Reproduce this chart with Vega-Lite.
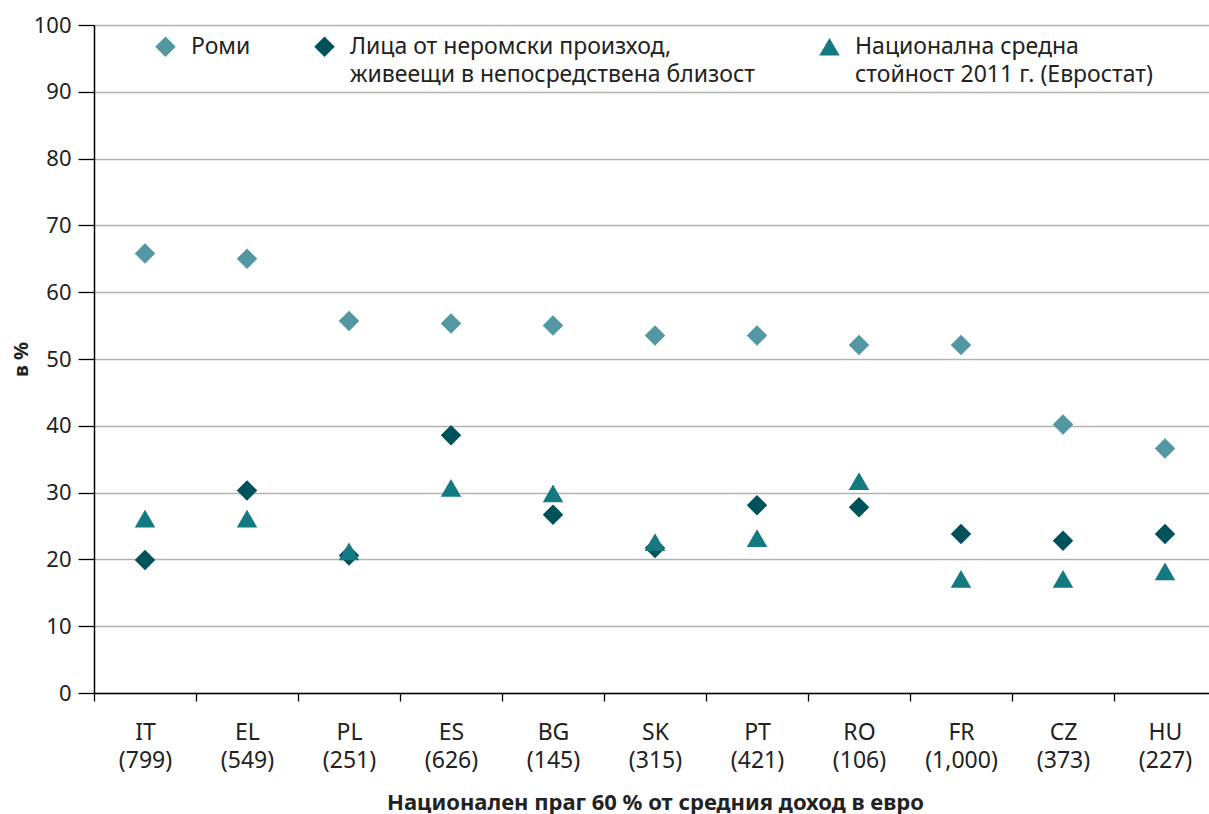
{
  "$schema": "https://vega.github.io/schema/vega-lite/v6.json",
  "autosize": "none",
  "width": 1115,
  "height": 668,
  "padding": {"left": 94, "top": 25, "right": 0, "bottom": 121},
  "background": "white",
  "config": {
    "font": "Noto Sans",
    "view": {"stroke": null},
    "style": {"guide-label": {"lineHeight": 28}}
  },
  "data": {
    "values": [
      {"country": "IT|(799)", "series": "Роми", "value": 65.8},
      {"country": "EL|(549)", "series": "Роми", "value": 65.0},
      {"country": "PL|(251)", "series": "Роми", "value": 55.7},
      {"country": "ES|(626)", "series": "Роми", "value": 55.3},
      {"country": "BG|(145)", "series": "Роми", "value": 55.0},
      {"country": "SK|(315)", "series": "Роми", "value": 53.5},
      {"country": "PT|(421)", "series": "Роми", "value": 53.5},
      {"country": "RO|(106)", "series": "Роми", "value": 52.1},
      {"country": "FR|(1,000)", "series": "Роми", "value": 52.1},
      {"country": "CZ|(373)", "series": "Роми", "value": 40.2},
      {"country": "HU|(227)", "series": "Роми", "value": 36.6},
      {"country": "IT|(799)", "series": "Лица от неромски произход, живеещи в непосредствена близост", "value": 19.9},
      {"country": "EL|(549)", "series": "Лица от неромски произход, живеещи в непосредствена близост", "value": 30.3},
      {"country": "PL|(251)", "series": "Лица от неромски произход, живеещи в непосредствена близост", "value": 20.6},
      {"country": "ES|(626)", "series": "Лица от неромски произход, живеещи в непосредствена близост", "value": 38.6},
      {"country": "BG|(145)", "series": "Лица от неромски произход, живеещи в непосредствена близост", "value": 26.7},
      {"country": "SK|(315)", "series": "Лица от неромски произход, живеещи в непосредствена близост", "value": 21.7},
      {"country": "PT|(421)", "series": "Лица от неромски произход, живеещи в непосредствена близост", "value": 28.1},
      {"country": "RO|(106)", "series": "Лица от неромски произход, живеещи в непосредствена близост", "value": 27.8},
      {"country": "FR|(1,000)", "series": "Лица от неромски произход, живеещи в непосредствена близост", "value": 23.8},
      {"country": "CZ|(373)", "series": "Лица от неромски произход, живеещи в непосредствена близост", "value": 22.8},
      {"country": "HU|(227)", "series": "Лица от неромски произход, живеещи в непосредствена близост", "value": 23.8},
      {"country": "IT|(799)", "series": "Национална средна стойност 2011 г. (Евростат)", "value": 26.1},
      {"country": "EL|(549)", "series": "Национална средна стойност 2011 г. (Евростат)", "value": 26.1},
      {"country": "PL|(251)", "series": "Национална средна стойност 2011 г. (Евростат)", "value": 21.2},
      {"country": "ES|(626)", "series": "Национална средна стойност 2011 г. (Евростат)", "value": 30.7},
      {"country": "BG|(145)", "series": "Национална средна стойност 2011 г. (Евростат)", "value": 29.9},
      {"country": "SK|(315)", "series": "Национална средна стойност 2011 г. (Евростат)", "value": 22.6},
      {"country": "PT|(421)", "series": "Национална средна стойност 2011 г. (Евростат)", "value": 23.2},
      {"country": "RO|(106)", "series": "Национална средна стойност 2011 г. (Евростат)", "value": 31.7},
      {"country": "FR|(1,000)", "series": "Национална средна стойност 2011 г. (Евростат)", "value": 17.1},
      {"country": "CZ|(373)", "series": "Национална средна стойност 2011 г. (Евростат)", "value": 17.1},
      {"country": "HU|(227)", "series": "Национална средна стойност 2011 г. (Евростат)", "value": 18.2}
    ]
  },
  "mark": {"type": "point", "filled": true, "opacity": 1, "size": 420, "strokeWidth": 0},
  "encoding": {
    "x": {
      "field": "country",
      "type": "nominal",
      "sort": null,
      "scale": {"range": [0, 1122], "paddingInner": 0, "paddingOuter": 0},
      "axis": {
        "labelExpr": "split(datum.label, '|')",
        "labelAngle": 0,
        "labelBaseline": "top",
        "labelFontSize": 23,
        "labelColor": "#222222",
        "labelPadding": 20,
        "tickBand": "extent",
        "tickSize": 8,
        "tickColor": "#000000",
        "tickWidth": 1.3,
        "domainColor": "#000000",
        "domainWidth": 1.5,
        "grid": false,
        "title": "Национален праг 60 % от средния доход в евро",
        "titleFontSize": 22,
        "titleFontWeight": "bold",
        "titleColor": "#222222",
        "titlePadding": 20,
        "titleAnchor": "middle"
      }
    },
    "y": {
      "field": "value",
      "type": "quantitative",
      "scale": {"domain": [0, 100], "nice": false, "zero": true},
      "axis": {
        "values": [0, 10, 20, 30, 40, 50, 60, 70, 80, 90, 100],
        "grid": true,
        "gridColor": "#b3b3b3",
        "gridWidth": 1.5,
        "tickSize": 16,
        "tickColor": "#000000",
        "tickWidth": 1.3,
        "domainColor": "#000000",
        "domainWidth": 1.5,
        "labelFontSize": 22,
        "labelColor": "#222222",
        "labelPadding": 7,
        "title": "в %",
        "titleFontSize": 20,
        "titleFontWeight": "bold",
        "titleColor": "#222222",
        "titlePadding": 2
      }
    },
    "color": {
      "field": "series",
      "type": "nominal",
      "sort": null,
      "scale": {
        "domain": ["Роми", "Лица от неромски произход, живеещи в непосредствена близост", "Национална средна стойност 2011 г. (Евростат)"],
        "range": ["#5397a3", "#00525a", "#127a80"]
      },
      "legend": {
        "orient": "none",
        "legendX": 60,
        "legendY": 10,
        "direction": "horizontal",
        "columns": 3,
        "columnPadding": 62,
        "title": null,
        "padding": 0,
        "symbolSize": 420,
        "symbolStrokeWidth": 0,
        "symbolOpacity": 1,
        "labelFontSize": 23,
        "labelColor": "#222222",
        "labelLimit": 600,
        "labelOffset": 14,
        "labelBaseline": "top",
        "labelExpr": "datum.label == 'Роми' ? ['Роми', ' '] : split(replace(replace(datum.label, 'произход, ', 'произход,|'), 'средна ', 'средна|'), '|')",
        "encode": {"labels": {"update": {"dy": {"value": -11}}}}
      }
    },
    "shape": {
      "field": "series",
      "type": "nominal",
      "sort": null,
      "scale": {
        "domain": ["Роми", "Лица от неромски произход, живеещи в непосредствена близост", "Национална средна стойност 2011 г. (Евростат)"],
        "range": ["diamond", "diamond", "triangle-up"]
      }
    }
  }
}
